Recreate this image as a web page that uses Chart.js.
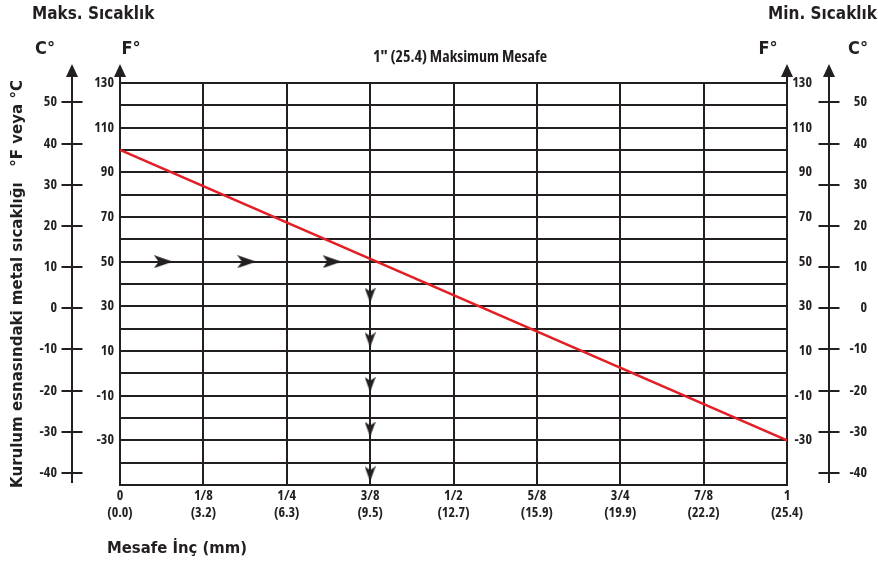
<!DOCTYPE html>
<html>
<head>
<meta charset="utf-8">
<title>Kurulum esnasındaki metal sıcaklığı</title>
<script src="https://cdn.jsdelivr.net/npm/chart.js@4.4.1/dist/chart.umd.min.js"></script>
<style>
  html, body { margin: 0; padding: 0; background: #fff; }
  canvas { display: block; }
</style>
</head>
<body>
<canvas id="chart" width="878" height="569"></canvas>
<script>
// distance ticks: inches and mm
var distInch = [0, 0.125, 0.25, 0.375, 0.5, 0.625, 0.75, 0.875, 1];
var distInchLabels = ['0', '1/8', '1/4', '3/8', '1/2', '5/8', '3/4', '7/8', '1'];
var distMmLabels = ['(0.0)', '(3.2)', '(6.3)', '(9.5)', '(12.7)', '(15.9)', '(19.9)', '(22.2)', '(25.4)'];

// Fahrenheit grid lines and the ones that get a label
var fGrid = [130, 120, 110, 100, 90, 80, 70, 60, 50, 40, 30, 20, 10, 0, -10, -20, -30, -40, -50];
var fLabels = [130, 110, 90, 70, 50, 30, 10, -10, -30];

// Celsius scale ticks
var cTicks = [50, 40, 30, 20, 10, 0, -10, -20, -30, -40];

// red line: metal temperature (°F) vs max distance (in)
var lineDist = [0, 1];
var lineTempF = [100, -30];

// guide arrows
var arrowRightDist = [0.065, 0.19, 0.318];
var arrowRightTempF = [50, 50, 50];
var arrowDownDist = [0.375, 0.375, 0.375, 0.375, 0.375];
var arrowDownTempF = [35, 15, -5, -25, -45];

var FONT = '"Open Sans", "DejaVu Sans Condensed", sans-serif';
var BIG = '"DejaVu Sans Condensed", "DejaVu Sans", sans-serif';
var COND = 'bold condensed';
var INK = '#231f20';
var RED = '#e31e24';

Chart.defaults.font.family = FONT;
Chart.defaults.font.weight = COND;
Chart.defaults.color = INK;

function toPoints(xs, ys) {
    return xs.map(function (x, i) { return { x: x, y: ys[i] }; });
}

function makeArrow(w, h, dir) {
    var c = document.createElement('canvas');
    c.width = w;
    c.height = h;
    var g = c.getContext('2d');
    g.fillStyle = INK;
    g.beginPath();
    if (dir === 'right') {
        g.moveTo(w, h / 2);
        g.lineTo(0, 0);
        g.lineTo(w * 0.25, h / 2);
        g.lineTo(0, h);
    } else {
        g.moveTo(w / 2, h);
        g.lineTo(0, 0);
        g.lineTo(w / 2, h * 0.25);
        g.lineTo(w, 0);
    }
    g.closePath();
    g.fill();
    return c;
}

var rightArrow = makeArrow(19, 13, 'right');
var downArrow = makeArrow(11, 15, 'down');

function fTickLabel(v) {
    return fLabels.indexOf(v) >= 0 ? String(v) : '';
}

// draw the axis arrows, Celsius rulers and free text
var decor = {
    id: 'decor',
    afterDraw: function (chart) {
        var ctx = chart.ctx;
        var a = chart.chartArea;
        var s = chart.scales;
        var tipY = 64, baseY = 77;

        ctx.save();
        ctx.strokeStyle = INK;
        ctx.fillStyle = INK;
        ctx.lineWidth = 2;

        function upArrow(x) {
            ctx.beginPath();
            ctx.moveTo(x, tipY);
            ctx.lineTo(x - 6, baseY);
            ctx.lineTo(x + 6, baseY);
            ctx.closePath();
            ctx.fill();
        }

        // Fahrenheit axes
        [a.left, a.right].forEach(function (x) {
            ctx.beginPath();
            ctx.moveTo(x, a.top);
            ctx.lineTo(x, baseY - 1);
            ctx.stroke();
            upArrow(x);
        });

        // Celsius rulers
        var cl = s.yCL, cr = s.yCR;
        [[cl.right, cl], [cr.left + 17, cr]].forEach(function (p) {
            var x = p[0], sc = p[1];
            ctx.beginPath();
            ctx.moveTo(x, baseY - 1);
            ctx.lineTo(x, a.bottom - 2);
            ctx.stroke();
            upArrow(x);
            cTicks.forEach(function (v) {
                var y = Math.round(sc.getPixelForValue(v));
                ctx.beginPath();
                ctx.moveTo(x - 10.5, y);
                ctx.lineTo(x + 10.5, y);
                ctx.stroke();
            });
        });

        // texts
        ctx.textBaseline = 'middle';
        ctx.font = 'bold 17px ' + BIG;
        ctx.textAlign = 'left';
        ctx.fillText('Maks. Sıcaklık', 32, 15);
        ctx.textAlign = 'right';
        ctx.fillText('Min. Sıcaklık', 877, 15);

        ctx.font = COND + ' 16px ' + FONT;
        ctx.textAlign = 'center';
        ctx.fillText('1" (25.4) Maksimum Mesafe', 460, 57);

        ctx.font = 'bold 18px ' + BIG;
        ctx.fillText('C°', 45, 49);
        ctx.fillText('F°', 131, 49);
        ctx.fillText('F°', 768, 49);
        ctx.fillText('C°', 858, 49);

        ctx.font = 'bold 16.5px ' + BIG;
        ctx.textAlign = 'left';
        ctx.fillText('Mesafe İnç (mm)', 107, 549);
        ctx.restore();
    }
};

new Chart(document.getElementById('chart'), {
    type: 'line',
    data: {
        datasets: [
            {
                data: toPoints(lineDist, lineTempF),
                yAxisID: 'yF',
                borderColor: RED,
                borderWidth: 2.5,
                pointRadius: 0,
                tension: 0
            },
            {
                data: toPoints(arrowRightDist, arrowRightTempF),
                yAxisID: 'yF',
                showLine: false,
                pointStyle: rightArrow,
                pointRadius: 9
            },
            {
                data: toPoints(arrowDownDist, arrowDownTempF),
                yAxisID: 'yF',
                showLine: false,
                pointStyle: downArrow,
                pointRadius: 8
            }
        ]
    },
    options: {
        responsive: false,
        animation: false,
        events: [],
        layout: { padding: { left: 0, right: 11, top: 83, bottom: 0 } },
        plugins: {
            legend: { display: false },
            tooltip: { enabled: false }
        },
        scales: {
            x: {
                type: 'linear',
                min: 0,
                max: 1,
                afterBuildTicks: function (s) { s.ticks = distInch.map(function (v) { return { value: v }; }); },
                afterFit: function (s) { s.height = 84; },
                grid: { color: INK, lineWidth: 2, drawTicks: false },
                border: { display: true, color: INK, width: 2 },
                ticks: {
                    padding: 3,
                    autoSkip: false,
                    maxRotation: 0,
                    font: { size: 14 },
                    callback: function (v, i) { return [distInchLabels[i], distMmLabels[i]]; }
                }
            },
            yF: {
                type: 'linear',
                position: 'left',
                weight: 1,
                min: -50,
                max: 130,
                afterBuildTicks: function (s) { s.ticks = fGrid.map(function (v) { return { value: v }; }); },
                afterFit: function (s) { s.width = 48; },
                grid: { color: INK, lineWidth: 2, drawTicks: false },
                border: { display: true, color: INK, width: 2 },
                ticks: { padding: 6, autoSkip: false, font: { size: 14 }, callback: fTickLabel }
            },
            yCL: {
                type: 'linear',
                position: 'left',
                weight: 2,
                min: -42.9,
                max: 54.7,
                afterBuildTicks: function (s) { s.ticks = cTicks.map(function (v) { return { value: v }; }); },
                afterFit: function (s) { s.width = 72; },
                grid: { display: false, drawTicks: false },
                border: { display: false },
                ticks: { padding: 15, autoSkip: false, font: { size: 14 } },
                title: {
                    display: true,
                    text: 'Kurulum esnasındaki metal sıcaklığı   °F veya °C',
                    font: { size: 16.7, weight: 'bold', family: BIG },
                    padding: { top: 8, bottom: 0 }
                }
            },
            yFR: {
                type: 'linear',
                position: 'right',
                weight: 1,
                min: -50,
                max: 130,
                afterBuildTicks: function (s) { s.ticks = fGrid.map(function (v) { return { value: v }; }); },
                afterFit: function (s) { s.width = 25; },
                grid: { display: false, drawTicks: false },
                border: { display: false },
                ticks: { padding: 5, crossAlign: 'far', autoSkip: false, font: { size: 14 }, callback: fTickLabel }
            },
            yCR: {
                type: 'linear',
                position: 'right',
                weight: 2,
                min: -42.9,
                max: 54.7,
                afterBuildTicks: function (s) { s.ticks = cTicks.map(function (v) { return { value: v }; }); },
                afterFit: function (s) { s.width = 55; },
                grid: { display: false, drawTicks: false },
                border: { display: false },
                ticks: { padding: 35, crossAlign: 'far', autoSkip: false, font: { size: 14 } }
            }
        }
    },
    plugins: [decor]
});
</script>
</body>
</html>
